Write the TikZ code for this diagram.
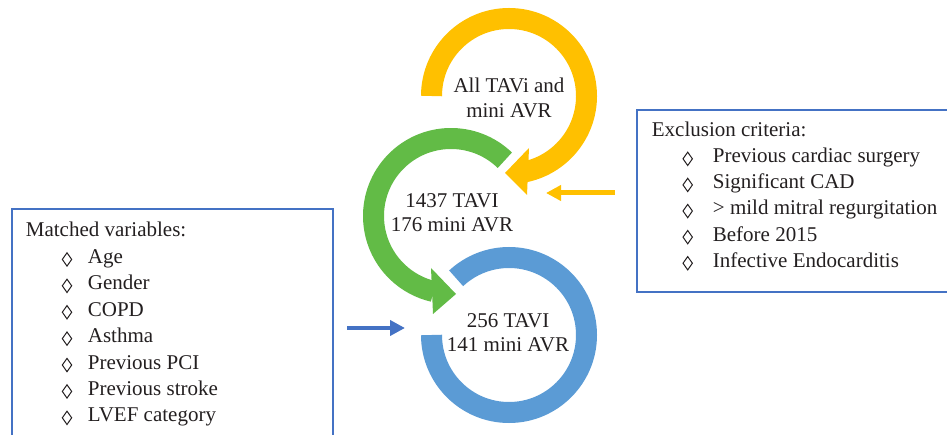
\documentclass[tikz,border=0pt]{standalone}
\usepackage{fontspec}
\setmainfont{Liberation Serif}
\usetikzlibrary{arrows.meta}
\definecolor{yel}{HTML}{FFC000}
\definecolor{grn}{HTML}{62BB46}
\definecolor{blu}{HTML}{5B9BD5}
\definecolor{dblu}{HTML}{4472C4}
\definecolor{txt}{HTML}{231F20}
\tikzset{
  ring/.style={line width=21pt},
  lbl/.style={inner sep=0pt, text=txt, font=\fontsize{21}{25}\selectfont},
  frame/.style={draw=dblu, line width=1.1pt},
  loz/.style={draw=txt, line width=1pt, line join=miter},
  smallarrow/.style={line width=5pt, -{Triangle[length=15pt,width=15pt]}}
}
\begin{document}
\begin{tikzpicture}[x=1pt,y=1pt]
\useasboundingbox (0,0) rectangle (947,434);
\clip (0,0) rectangle (947,434);
% centres
\coordinate (Yc) at (509,338);
\coordinate (Gc) at (451,218);
\coordinate (Bc) at (509,99);
% frames
\draw[frame] (12,-10) rectangle (333,225);
\draw[frame] (637,142) rectangle (960,324);
% blue ring
\draw[ring, blu] ([shift={(180:77.5)}]Bc) arc[start angle=180, end angle=493, radius=77.5];
% green arc + head
\draw[ring, grn] ([shift={(46:77.5)}]Gc) arc[start angle=46, end angle=257, radius=77.5];
\fill[grn] (456,140) -- (431,166) -- (433,120) -- cycle;
% yellow arc + head
\draw[ring, yel] ([shift={(180:77.5)}]Yc) arc[start angle=180, end angle=-80, radius=77.5];
\fill[yel] (505,261) -- (529,286) -- (527,239) -- cycle;
% small arrows
\coordinate (ya0) at (615,241);
\coordinate (ya1) at (546,241);
\draw[smallarrow, yel] (ya0) -- (ya1);
\coordinate (ba0) at (347,106);
\coordinate (ba1) at (405,106);
\draw[smallarrow, dblu, line width=4.5pt] (ba0) -- (ba1);
% centre labels
\node[lbl, anchor=base] (y1) at (509,341.3) {All TAVi and};
\node[lbl, anchor=base] (y2) at (509,316.7) {mini AVR};
\node[lbl, anchor=base] (g1) at (452,226.7) {1437 TAVI};
\node[lbl, anchor=base] (g2) at (452,202.3) {176 mini AVR};
\node[lbl, anchor=base] (b1) at (508,106.7) {256 TAVI};
\node[lbl, anchor=base] (b2) at (508,82.3) {141 mini AVR};
% matched variables
\node[lbl, anchor=base west] (mt) at (25.7,197) {Matched variables:};
\foreach \t [count=\i] in {Age,Gender,COPD,Asthma,Previous PCI,Previous stroke,LVEF category}{
  \pgfmathsetmacro{\yb}{197-26.4*\i}
  \draw[loz] (67,\yb-2.7) -- (71.7,\yb+4) -- (67,\yb+10.6) -- (62.3,\yb+4) -- cycle;
  \node[lbl, anchor=base west] (mi\i) at (87.7,\yb) {\t};
}
% exclusion criteria
\node[lbl, anchor=base west] (et) at (651.7,297.3) {Exclusion criteria:};
\foreach \t [count=\i] in {Previous cardiac surgery,Significant CAD,> mild mitral regurgitation,Before 2015,Infective Endocarditis}{
  \pgfmathsetmacro{\yb}{297.3-26.1*\i}
  \draw[loz] (687.7,\yb-2.7) -- (692.4,\yb+4) -- (687.7,\yb+10.6) -- (683,\yb+4) -- cycle;
  \node[lbl, anchor=base west] (ei\i) at (712.7,\yb) {\t};
}
\end{tikzpicture}
\end{document}
